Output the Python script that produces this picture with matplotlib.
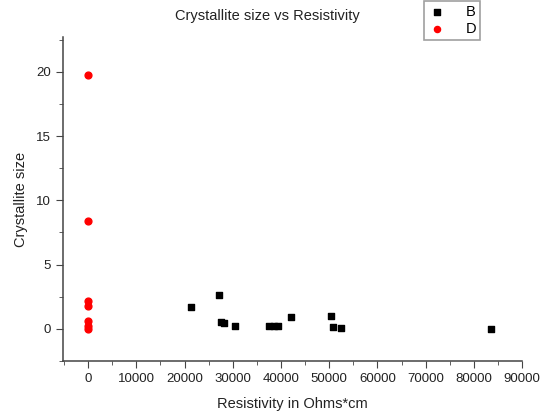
import numpy as np
import matplotlib.pyplot as plt
from matplotlib.ticker import MultipleLocator

plt.rcParams['font.family'] = ['Liberation Sans', 'DejaVu Sans']

# series B: resistivity (Ohms*cm) vs crystallite size
b_res = [21300, 27150, 27650, 28100, 30400, 37500, 38500, 39400,
         42000, 50350, 50700, 52550, 83500]
b_size = [1.68, 2.65, 0.54, 0.47, 0.2, 0.22, 0.22, 0.22,
          0.93, 0.98, 0.15, 0.1, 0.0]

# series D
d_res = [0, 0, 0, 0, 0, 0, 0]
d_size = [19.77, 8.4, 2.2, 1.82, 0.65, 0.2, 0.02]

fig = plt.figure(figsize=(5.41, 4.16), dpi=100)
ax = fig.add_axes([0.1165, 0.132, 0.8485, 0.779])

ax.scatter(b_res, b_size, marker='s', s=22, color='black', label='B', zorder=3)
ax.scatter(d_res, d_size, marker='o', s=24, color='red', label='D', zorder=3)

ax.set_xlim(-5200, 90000)
ax.set_ylim(-2.5, 22.7)
ax.xaxis.set_major_locator(MultipleLocator(10000))
ax.xaxis.set_minor_locator(MultipleLocator(5000))
ax.yaxis.set_major_locator(MultipleLocator(5))
ax.yaxis.set_minor_locator(MultipleLocator(2.5))

for s in ['top', 'right']:
    ax.spines[s].set_visible(False)
for s in ['left', 'bottom']:
    ax.spines[s].set_color('#444444')
    ax.spines[s].set_linewidth(1.1)
ax.tick_params(which='major', direction='out', length=5, color='#444444',
               labelsize=9.5, labelcolor='#222222')
ax.tick_params(which='minor', direction='out', length=3, color='#444444')

ax.set_xlabel('Resistivity in Ohms*cm', fontsize=10.5, color='#222222', labelpad=9)
ax.set_ylabel('Crystallite size', fontsize=10.5, color='#222222', labelpad=6)
fig.text(0.495, 0.962, 'Crystallite size vs Resistivity', ha='center', va='center',
         fontsize=10.5, color='#222222')

leg = fig.legend(loc='upper left', bbox_to_anchor=(424 / 541, 1 - 1 / 416),
                 frameon=True, fancybox=False, fontsize=10.5, handletextpad=1.3,
                 borderpad=0.25, labelspacing=0.25, handlelength=1.3,
                 markerscale=0.9, borderaxespad=0)
leg.get_frame().set_edgecolor('#888888')
leg.get_frame().set_linewidth(1.2)

fig.savefig('out.png', dpi=100)
